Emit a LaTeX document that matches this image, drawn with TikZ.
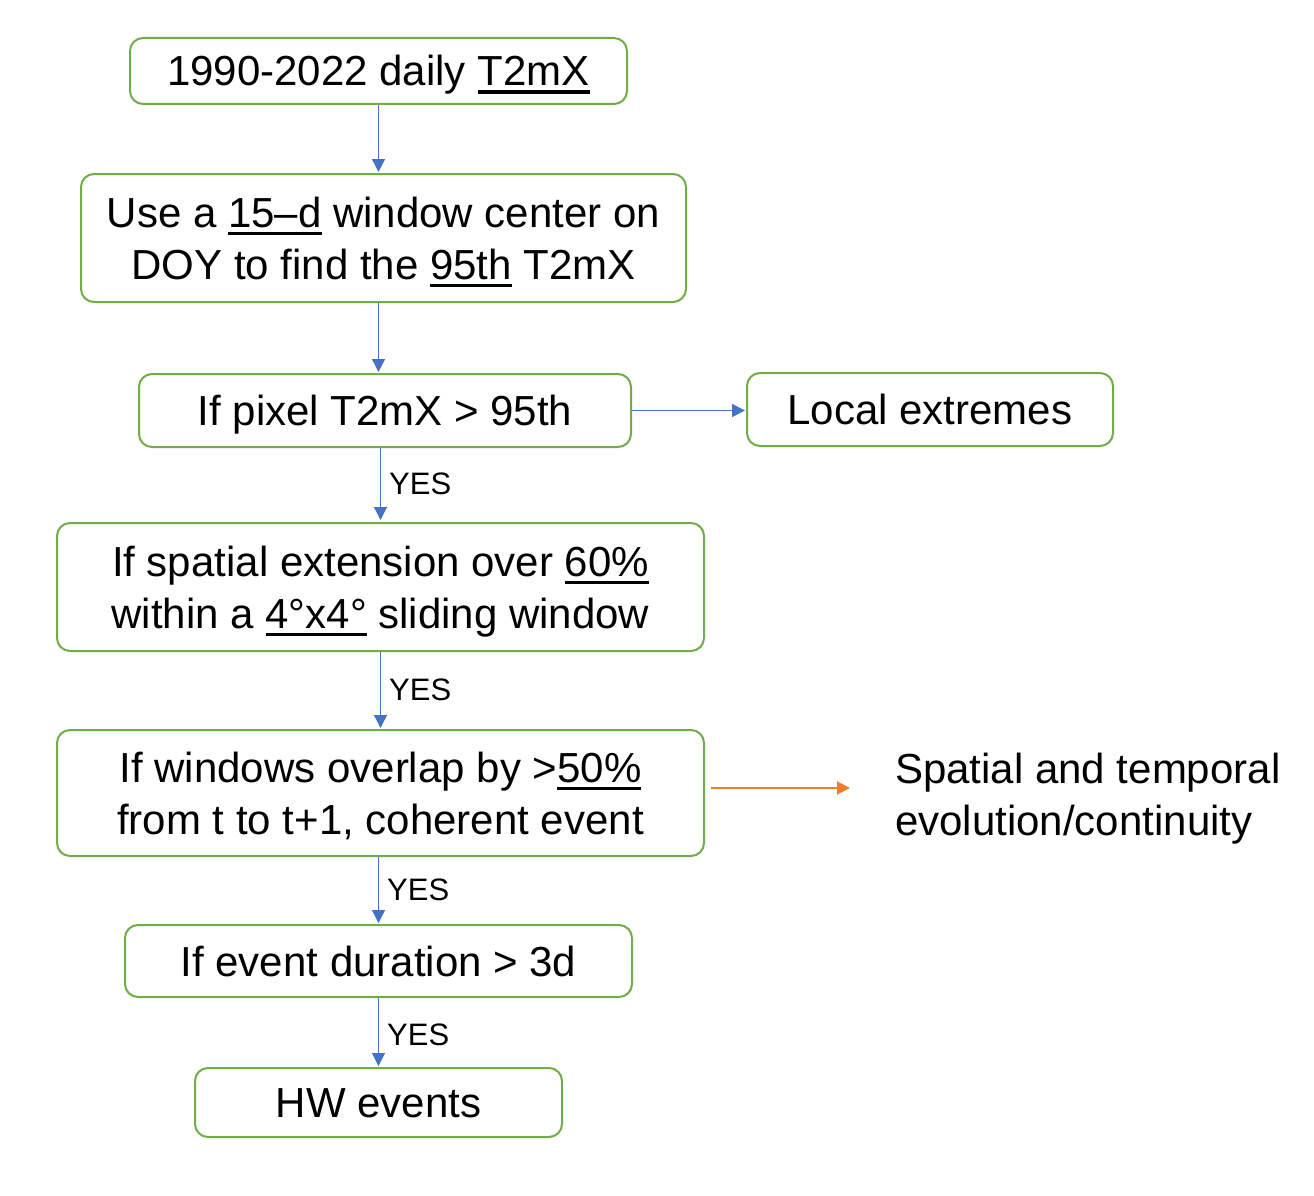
\documentclass[tikz,border=0pt]{standalone}
\usepackage{fontspec}
\setmainfont{Liberation Sans}
\usetikzlibrary{arrows.meta}
\definecolor{boxgreen}{RGB}{112,173,71}
\definecolor{arrblue}{RGB}{68,114,196}
\definecolor{arrorange}{RGB}{237,125,49}
\newcommand\myul[1]{\setbox0\hbox{#1}\rlap{\rule[-8pt]{\wd0}{3.5pt}}\box0\relax}
\newcommand\tstrut{\rule{0pt}{40pt}}
\newcommand\bstrut{\rule[-10pt]{0pt}{10pt}}
\tikzset{
  flowbox/.style={draw=boxgreen, line width=2pt, rounded corners=13pt, fill=white,
    inner sep=0pt, align=center, font=\fontsize{42}{52}\selectfont},
  flowarrow/.style={draw=arrblue, line width=1.3pt, -{Triangle[width=13pt,length=13pt]}},
  orangearrow/.style={draw=arrorange, line width=2pt, -{Triangle[width=13pt,length=13pt]}},
  yeslabel/.style={right, inner xsep=8pt, inner ysep=0pt, font=\fontsize{31}{36}\selectfont},
  plaintext/.style={inner sep=0pt, align=left, font=\fontsize{42}{52}\selectfont}
}
\begin{document}
\begin{tikzpicture}[x=1pt, y=-1pt]
\useasboundingbox (0,0) rectangle (1314,1196);
\node[flowbox, minimum width=497pt, minimum height=66pt] (b1) at (378.5,71) {\tstrut\bstrut 1990-2022 daily \myul{T2mX}};
\node[flowbox, minimum width=605pt, minimum height=128pt] (b2) at (383.5,238) {\tstrut Use a \myul{15–d} window center on\\DOY to find the \myul{95th} T2mX\bstrut};
\node[flowbox, minimum width=492pt, minimum height=73pt] (b3) at (385,410.5) {\tstrut\bstrut If pixel T2mX > 95th};
\node[flowbox, minimum width=366pt, minimum height=73pt] (loc) at (930,409.5) {\tstrut\bstrut Local extremes};
\node[flowbox, minimum width=647pt, minimum height=128pt] (b4) at (380.5,587) {\tstrut If spatial extension over \myul{60\%}\\within a \myul{4°x4°} sliding window\bstrut};
\node[flowbox, minimum width=647pt, minimum height=126pt] (b5) at (380.5,793) {\tstrut If windows overlap by >\myul{50\%}\\from t to t+1, coherent event\bstrut};
\node[plaintext, anchor=west] (sp) at (895,794) {\tstrut Spatial and temporal\\evolution/continuity\bstrut};
\node[flowbox, minimum width=507pt, minimum height=72pt] (b6) at (378.5,961) {\tstrut\bstrut If event duration > 3d};
\node[flowbox, minimum width=367pt, minimum height=69pt] (b7) at (378.5,1102.5) {\tstrut\bstrut HW events};

\draw[flowarrow] (b1.south) -- ([yshift=1pt]b1.south |- b2.north);
\draw[flowarrow] (b2.south -| b1.south) -- ([yshift=1pt]b3.north -| b1.south);
\draw[flowarrow] (b3.south -| b4.south) -- node[yeslabel] (y1) {YES} ([yshift=2pt]b4.north);
\draw[flowarrow] (b4.south) -- node[yeslabel] (y2) {YES} ([yshift=1pt]b5.north);
\draw[flowarrow] (b5.south -| b6.south) -- node[yeslabel] (y3) {YES} ([yshift=1pt]b6.north);
\draw[flowarrow] (b6.south) -- node[yeslabel, yshift=-3pt] (y4) {YES} ([yshift=1pt]b7.north);
\draw[flowarrow] (b3.east) -- ([xshift=-1pt]b3.east -| loc.west);
\draw[orangearrow] ([xshift=6pt, yshift=5pt]b5.east) -- ([xshift=-45pt, yshift=5pt]b5.east -| sp.west);
\end{tikzpicture}
\end{document}
